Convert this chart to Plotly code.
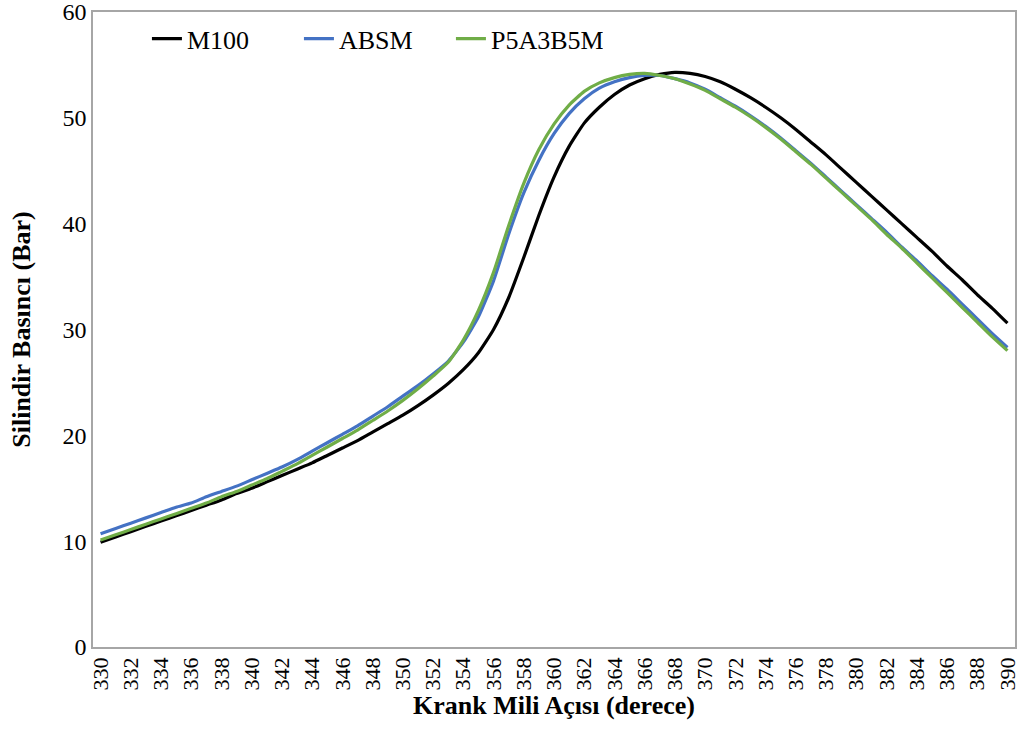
import plotly.graph_objects as go

crank_angle = list(range(330, 391))

m100 = [9.9, 10.4, 10.9, 11.4, 11.9, 12.4, 12.9, 13.4, 13.9, 14.5,
        15.0, 15.6, 16.2, 16.8, 17.4, 18.1, 18.8, 19.5, 20.3, 21.1,
        21.9, 22.8, 23.8, 24.9, 26.2, 27.8, 30.0, 33.0, 36.8, 40.8,
        44.4, 47.3, 49.5, 51.0, 52.2, 53.1, 53.7, 54.1, 54.3, 54.2,
        53.9, 53.4, 52.7, 51.9, 51.0, 50.0, 48.9, 47.7, 46.5, 45.2,
        43.9, 42.6, 41.3, 40.0, 38.7, 37.4, 36.0, 34.7, 33.3, 32.0,
        30.6]

absm = [10.7, 11.2, 11.7, 12.2, 12.7, 13.2, 13.6, 14.2, 14.7, 15.2,
        15.8, 16.4, 17.0, 17.7, 18.5, 19.3, 20.1, 20.9, 21.8, 22.7,
        23.7, 24.7, 25.8, 27.0, 28.8, 31.2, 34.6, 39.0, 42.9, 46.0,
        48.5, 50.4, 51.8, 52.8, 53.4, 53.8, 54.0, 54.0, 53.7, 53.3,
        52.7, 51.9, 51.1, 50.2, 49.2, 48.1, 46.9, 45.7, 44.4, 43.1,
        41.8, 40.5, 39.2, 37.8, 36.5, 35.1, 33.8, 32.4, 31.0, 29.6,
        28.3]

p5a3b5m = [10.1, 10.6, 11.1, 11.6, 12.1, 12.6, 13.1, 13.6, 14.2, 14.7,
           15.3, 15.9, 16.6, 17.3, 18.1, 18.9, 19.7, 20.5, 21.4, 22.3,
           23.3, 24.4, 25.6, 26.9, 29.0, 31.8, 35.4, 39.8, 43.8, 47.0,
           49.4, 51.2, 52.5, 53.3, 53.8, 54.1, 54.2, 54.0, 53.7, 53.2,
           52.6, 51.8, 51.0, 50.1, 49.1, 48.0, 46.8, 45.6, 44.3, 43.0,
           41.7, 40.4, 39.0, 37.7, 36.3, 34.9, 33.5, 32.1, 30.7, 29.3,
           28.0]

series_names = ["M100", "ABSM", "P5A3B5M"]
series_values = [m100, absm, p5a3b5m]
series_colors = ["#000000", "#4472C4", "#70AD47"]

x_ticks = list(range(330, 391, 2))
y_ticks = list(range(0, 61, 10))

font_family = "Liberation Serif, Times New Roman, serif"

fig = go.Figure()
for name, vals, col in zip(series_names, series_values, series_colors):
    fig.add_trace(go.Scatter(
        x=crank_angle, y=vals, mode="lines", name=name,
        line=dict(color=col, width=3.2, shape="spline", smoothing=0.5),
    ))

fig.update_layout(
    width=1022, height=753,
    margin=dict(l=93, r=7, t=12, b=106, autoexpand=False),
    paper_bgcolor="white", plot_bgcolor="white",
    font=dict(family=font_family, size=23, color="black"),
    showlegend=True,
    legend=dict(
        orientation="h", x=0.0585, y=0.995, xanchor="left", yanchor="top",
        bgcolor="rgba(0,0,0,0)", font=dict(size=26, family=font_family),
        entrywidth=107, entrywidthmode="pixels",
    ),
    xaxis=dict(
        range=[329.5, 390.5], tickmode="array", tickvals=x_ticks,
        ticktext=[str(v) for v in x_ticks], tickangle=-90,
        showgrid=False, zeroline=False, showline=True, mirror=True,
        linecolor="#A6A6A6", linewidth=1.5, ticks="", automargin=False,
        ticklabeloverflow="allow",
        tickfont=dict(size=22, family=font_family),
        title=dict(text="<b>Krank Mili Açısı (derece)</b>",
                   font=dict(size=26, family=font_family), standoff=3),
    ),
    yaxis=dict(
        range=[0, 60], tickmode="array", tickvals=y_ticks,
        showgrid=False, zeroline=False, showline=True, mirror=True,
        linecolor="#A6A6A6", linewidth=1.5, ticks="", automargin=False,
        ticklabeloverflow="allow",
        tickfont=dict(size=24, family=font_family),
        title=dict(text="<b>Silindir Basıncı (Bar)</b>",
                   font=dict(size=26, family=font_family), standoff=24),
    ),
)

fig.write_html(
    "out.html",
    config={"displayModeBar": False},
    post_script="document.body.style.margin='0';document.body.style.padding='0';",
)
